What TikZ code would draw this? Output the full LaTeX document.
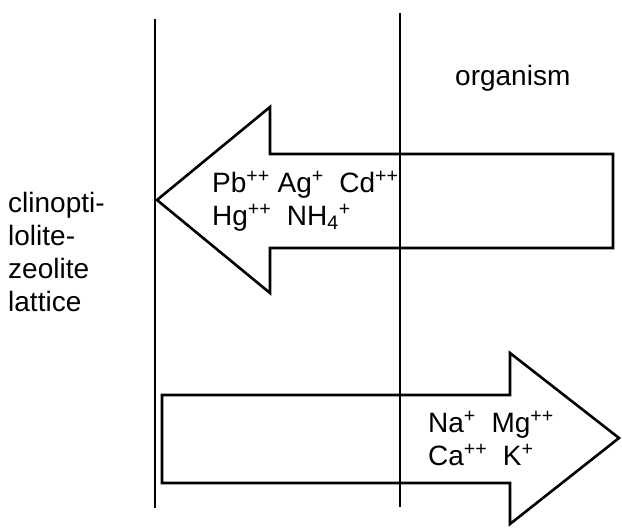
\documentclass[tikz,border=0pt]{standalone}
\usepackage{fontspec}
\setmainfont{Liberation Sans}
\begin{document}
\begin{tikzpicture}[x=1pt,y=-1pt,font=\fontsize{28}{33}\selectfont]

	\tikzstyle{wall}=[line width=2.8pt]
	\tikzstyle{bigarrow}=[line width=2.6pt,line join=miter]
	\tikzstyle{ion}=[anchor=base west,inner sep=0pt]

	\useasboundingbox (0,0) rectangle (622,528);

	\draw[wall] (155,19) -- (155,508);
	\draw[wall] (400,13) -- (400,507);

	% into the lattice
	\draw[bigarrow] (157,200) -- (270,107) -- (270,154) -- (613,154) -- (613,248) -- (270,248) -- (270,293) -- cycle;
	% out of the lattice
	\draw[bigarrow] (162,395) -- (510,395) -- (510,353) -- (619,438) -- (510,524) -- (510,483) -- (162,483) -- cycle;

	\node[ion] (pb) at (212,192) {Pb\textsuperscript{++} Ag\textsuperscript{+}~ Cd\textsuperscript{++}};
	\node[ion] (hg) at (212,225) {Hg\textsuperscript{++}~ NH\textsubscript{4}\textsuperscript{+}};
	\node[ion] (na) at (428,432) {Na\textsuperscript{+}~ Mg\textsuperscript{++}};
	\node[ion] (ca) at (428,465) {Ca\textsuperscript{++}~ K\textsuperscript{+}};

	\node[ion] (org) at (455,85) {organism};
	\foreach \t [count=\i] in {clinopti-,lolite-,zeolite,lattice} { \node[ion] (lat\i) at (8,{179+33*\i}) {\t};}
\end{tikzpicture}
\end{document}
